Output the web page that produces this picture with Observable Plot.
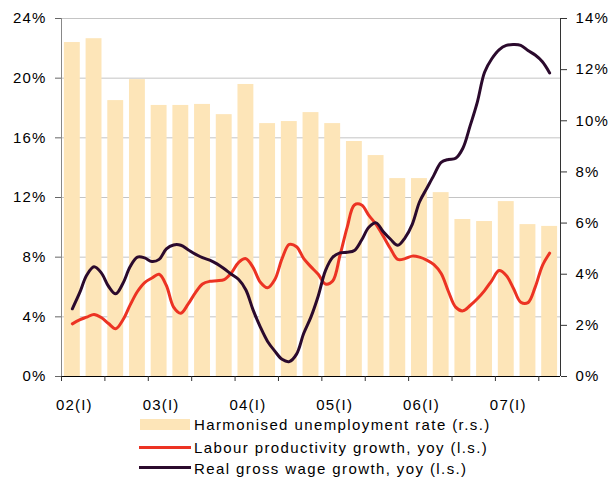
<!DOCTYPE html>
<html>
<head>
<meta charset="utf-8">
<script src="https://cdn.jsdelivr.net/npm/d3@7"></script>
<script src="https://cdn.jsdelivr.net/npm/@observablehq/plot@0.6"></script>
<style>
  html, body { margin: 0; padding: 0; background: #fff; }
  #wrap { position: relative; width: 616px; height: 478px; font-family: "Liberation Sans", Arial, sans-serif; }
  .lg { position: absolute; font-size: 15px; letter-spacing: 1.4px; color: #000; line-height: 18px; white-space: nowrap; }
  .sw { position: absolute; }
</style>
</head>
<body>
<div id="wrap"></div>
<script>
// Quarterly harmonised unemployment rate (%; right scale), 02Q1 .. 07Q3
const unemployment = [13.06, 13.21, 10.79, 11.61, 10.6, 10.6, 10.64, 10.24, 11.42, 9.89, 9.97, 10.32,
  9.89, 9.19, 8.64, 7.74, 7.74, 7.19, 6.14, 6.06, 6.84, 5.94, 5.87];
// Monthly labour productivity growth, yoy (%; left scale), Feb 02 .. Aug 07
const productivity = [3.53, 3.8, 3.98, 4.16, 3.95, 3.55, 3.2, 3.8, 4.8, 5.7, 6.3, 6.6, 6.85, 6.1, 4.65, 4.24,
  4.85, 5.6, 6.2, 6.38, 6.42, 6.5, 6.95, 7.65, 7.9, 7.3, 6.32, 5.95, 6.5, 7.9, 8.85, 8.7, 7.9, 7.35, 6.85, 6.2,
  6.4, 8.1, 10.0, 11.5, 11.5, 10.8, 10.2, 9.4, 8.56, 7.85, 7.9, 8.07, 8.0, 7.8, 7.5, 6.9, 5.7, 4.65, 4.4, 4.76,
  5.21, 5.76, 6.43, 7.1, 6.77, 5.9, 4.98, 4.95, 5.99, 7.44, 8.27];
// Monthly real gross wage growth, yoy (%; left scale), Feb 02 .. Aug 07
const wages = [4.54, 5.6, 6.8, 7.35, 6.95, 6.05, 5.54, 6.25, 7.37, 8.0, 7.95, 7.71, 7.85, 8.55, 8.82, 8.8,
  8.5, 8.2, 7.97, 7.8, 7.55, 7.22, 6.85, 6.5, 5.8, 4.45, 3.31, 2.35, 1.7, 1.15, 1.0, 1.5, 2.9, 4.0, 5.4, 7.1,
  8.0, 8.29, 8.33, 8.45, 9.15, 10.0, 10.3, 9.7, 9.2, 8.8, 9.3, 10.2, 11.7, 12.6, 13.5, 14.35, 14.55, 14.63,
  15.3, 16.8, 18.4, 20.4, 21.3, 21.9, 22.2, 22.25, 22.2, 21.85, 21.55, 21.1, 20.35];
const yearLabels = ["02(I)", "03(I)", "04(I)", "05(I)", "06(I)", "07(I)"];
const leftTicks = [0, 4, 8, 12, 16, 20, 24];
const rightTicks = [0, 2, 4, 6, 8, 10, 12, 14];
const legendItems = ["Harmonised unemployment rate (r.s.)", "Labour productivity growth, yoy (l.s.)", "Real gross wage growth, yoy (l.s.)"];

const colBar = "#fde5b8", colRed = "#ec3323", colDark = "#2b0a2d";
const k = 24 / 14; // right-scale -> left-scale

const chart = Plot.plot({
  width: 616,
  height: 416,
  marginTop: 18,
  marginBottom: 40,
  marginLeft: 61,
  marginRight: 56,
  style: { fontFamily: "'Liberation Sans', Arial, sans-serif", fontSize: "15px", letterSpacing: "1.2px", color: "#000", background: "#fff" },
  x: { domain: [0, 69] },
  y: { domain: [0, 24] },
  marks: [
    Plot.ruleY(leftTicks.filter(d => d > 0), { stroke: "#c4c4c4" }),
    Plot.rectY(unemployment, { x1: (d, i) => i * 3, x2: (d, i) => i * 3 + 3, y1: 0, y2: d => d * k, fill: colBar, insetLeft: 2.9, insetRight: 2.9 }),
    Plot.line(productivity, { x: (d, i) => i + 1.5, y: d => d, stroke: colRed, strokeWidth: 3, curve: "catmull-rom" }),
    Plot.line(wages, { x: (d, i) => i + 1.5, y: d => d, stroke: colDark, strokeWidth: 3, curve: "catmull-rom" }),
    Plot.ruleX([0], { stroke: "#888" }),
    Plot.ruleX([69], { stroke: "#333" }),
    Plot.ruleY([0], { stroke: "#000" }),
    Plot.axisY({ anchor: "left", ticks: leftTicks, tickFormat: d => d + "%", tickSize: 6, tickPadding: 9, label: null, stroke: "#666" }),
    Plot.axisY({ anchor: "right", ticks: rightTicks.map(v => v * k), tickFormat: d => Math.round(d / k) + "%", tickSize: 6, tickPadding: 9, label: null, stroke: "#333" }),
    Plot.axisX({ ticks: d3.range(0, 67, 6), tickFormat: () => "", tickSize: 5, label: null, stroke: "#333" }),
    Plot.text(yearLabels, { x: (d, i) => i * 12 + 1.5, y: 0, dy: 29, dx: 2, text: d => d, fontSize: 15, fill: "#000" })
  ]
});

const wrap = document.getElementById("wrap");
wrap.appendChild(chart);

// Legend (below the SVG)
const sw1 = document.createElement("div");
sw1.className = "sw";
Object.assign(sw1.style, { left: "140px", top: "419px", width: "50px", height: "11px", background: colBar });
wrap.appendChild(sw1);
[[colRed, 447], [colDark, 467]].forEach(([c, y]) => {
  const s = document.createElement("div");
  s.className = "sw";
  Object.assign(s.style, { left: "139px", top: (y - 1.5) + "px", width: "52px", height: "3px", background: c });
  wrap.appendChild(s);
});
[416, 439, 460].forEach((t, i) => {
  const d = document.createElement("div");
  d.className = "lg";
  d.style.left = "194px";
  d.style.top = t + "px";
  d.textContent = legendItems[i];
  wrap.appendChild(d);
});
</script>
</body>
</html>
